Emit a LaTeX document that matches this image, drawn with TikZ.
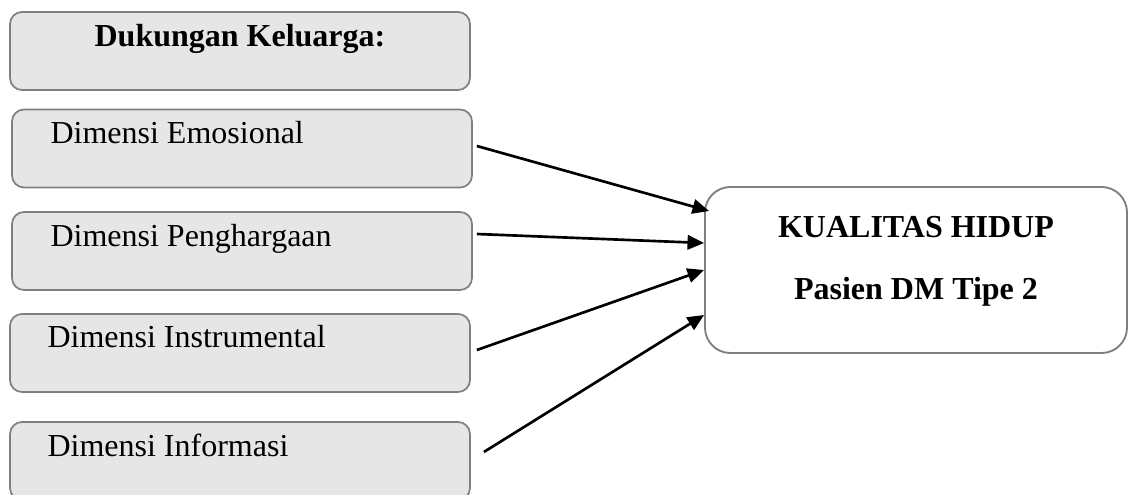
\documentclass[tikz,border=0pt]{standalone}
\usepackage{fontspec}
\setmainfont{Liberation Serif}
\usetikzlibrary{calc,arrows.meta}
\definecolor{boxfill}{HTML}{E6E6E6}
\definecolor{boxline}{HTML}{7F7F7F}
\begin{document}
\begin{tikzpicture}[x=0.375pt,y=-0.375pt,
  lbox/.style={draw=boxline,fill=boxfill,line width=0.65pt,rounded corners=4.5pt,
    minimum width=172.5pt,minimum height=29.25pt,inner sep=0pt},
  rbox/.style={draw=boxline,fill=white,line width=0.7pt,rounded corners=9.5pt,
    minimum width=158.25pt,minimum height=62.25pt,inner sep=0pt},
  txt/.style={inner sep=0pt,font=\fontsize{12}{14}\selectfont},
  btxt/.style={inner sep=0pt,font=\fontsize{12}{14}\selectfont\bfseries},
  arr/.style={line width=1pt,-{Triangle[length=6.2pt,width=5.4pt]}}]
\useasboundingbox (0,0) rectangle (1131,495);
\clip (0,0) rectangle (1131,495);
% left boxes
\node[lbox] (b0) at (240,51) {};
\node[lbox] (b1) at (242,148.5) {};
\node[lbox] (b2) at (242,251) {};
\node[lbox] (b3) at (240,353) {};
\node[lbox] (b4) at (240,461) {};
% right box
\node[rbox] (k) at (916,270) {};
% texts
\node[btxt,anchor=base] (t0) at (240,47) {Dukungan Keluarga:};
\node[txt,anchor=base west] (t1) at (50,144) {Dimensi Emosional};
\node[txt,anchor=base west] (t2) at (50,247) {Dimensi Penghargaan};
\node[txt,anchor=base west] (t3) at (47,347) {Dimensi Instrumental};
\node[txt,anchor=base west] (t4) at (47,456) {Dimensi Informasi};
\node[btxt,anchor=base] (k1) at (916,238) {KUALITAS HIDUP};
\node[btxt,anchor=base] (k2) at (916,300) {Pasien DM Tipe 2};
% arrows
\draw[arr] ($(b1.east)+(4,-2.5)$) -- ($(k.west)+(5,-59)$);
\draw[arr] ($(b2.east)+(4,-17)$) -- ($(k.west)+(0,-27)$);
\draw[arr] ($(b3.east)+(6,-3)$) -- ($(k.west)+(0,0)$);
\draw[arr] ($(b4.east)+(13,-9)$) -- ($(k.west)+(0,45)$);
\end{tikzpicture}
\end{document}
